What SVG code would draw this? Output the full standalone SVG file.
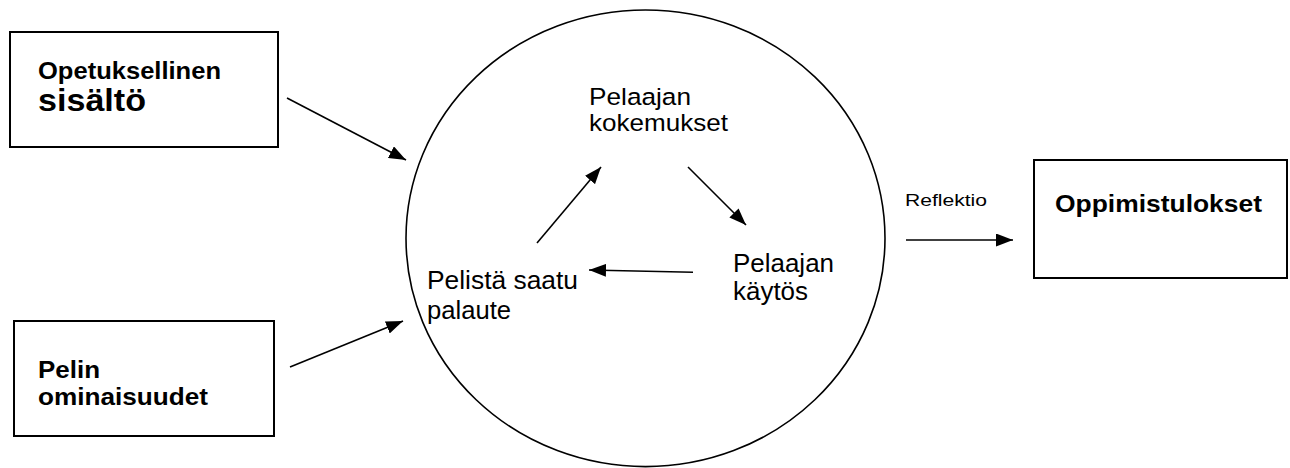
<svg xmlns="http://www.w3.org/2000/svg" width="1290" height="468" viewBox="0 0 1290 468">
<style>
.box{fill:#fff;stroke:#000;stroke-width:2}
.b{font-family:"Liberation Sans",Arial,sans-serif;font-weight:bold;fill:#000}
.r{font-family:"Liberation Sans",Arial,sans-serif;fill:#000}
.c{fill:none;stroke:#000;stroke-width:1.6}
.a{fill:none;stroke:#000;stroke-width:1.6;marker-end:url(#ah)}
</style>
<defs>
<marker id="ah" markerUnits="userSpaceOnUse" markerWidth="17" markerHeight="13" refX="17" refY="6.5" orient="auto">
<path d="M0,0 L17,6.5 L0,13 z" fill="#000"/>
</marker>
</defs>
<rect width="1290" height="468" fill="#fff"/>
<g id="node-opetus">
<rect class="box" x="10" y="32" width="268" height="115"/>
<text class="b" x="38" y="79" font-size="24" textLength="183" lengthAdjust="spacingAndGlyphs">Opetuksellinen</text>
<text class="b" x="38" y="111" font-size="31" textLength="108" lengthAdjust="spacingAndGlyphs">sisältö</text>
</g>
<g id="node-pelin">
<rect class="box" x="14" y="321" width="260" height="115"/>
<text class="b" x="38" y="378" font-size="24" textLength="62" lengthAdjust="spacingAndGlyphs">Pelin</text>
<text class="b" x="38" y="405" font-size="24" textLength="170" lengthAdjust="spacingAndGlyphs">ominaisuudet</text>
</g>
<g id="node-oppimis">
<rect class="box" x="1034" y="160" width="253" height="118"/>
<text class="b" x="1055" y="211.5" font-size="24" textLength="207" lengthAdjust="spacingAndGlyphs">Oppimistulokset</text>
</g>
<g id="node-circle">
<ellipse class="c" cx="645.5" cy="238.3" rx="239.5" ry="228.3"/>
</g>
<g id="node-kokemukset">
<text class="r" x="589" y="104.5" font-size="24.5" textLength="102" lengthAdjust="spacingAndGlyphs">Pelaajan</text>
<text class="r" x="589" y="131" font-size="24.5" textLength="139" lengthAdjust="spacingAndGlyphs">kokemukset</text>
</g>
<g id="node-kaytos">
<text class="r" x="733" y="271.5" font-size="25" textLength="101" lengthAdjust="spacingAndGlyphs">Pelaajan</text>
<text class="r" x="733" y="300" font-size="25" textLength="75" lengthAdjust="spacingAndGlyphs">käytös</text>
</g>
<g id="node-palaute">
<text class="r" x="427" y="289.3" font-size="25" textLength="151" lengthAdjust="spacingAndGlyphs">Pelistä saatu</text>
<text class="r" x="427" y="319.3" font-size="25" textLength="84" lengthAdjust="spacingAndGlyphs">palaute</text>
</g>
<g id="connectors">
<line class="a" x1="287" y1="98" x2="406" y2="160"/>
<line class="a" x1="290" y1="367" x2="403" y2="321"/>
<line class="a" x1="537" y1="243" x2="601" y2="167"/>
<line class="a" x1="688" y1="167" x2="746" y2="225"/>
<line class="a" x1="693" y1="272.3" x2="589" y2="270"/>
<line class="a" x1="906" y1="240" x2="1013" y2="240"/>
<text class="r" x="905" y="206" font-size="17" textLength="82" lengthAdjust="spacingAndGlyphs">Reflektio</text>
</g>
</svg>
